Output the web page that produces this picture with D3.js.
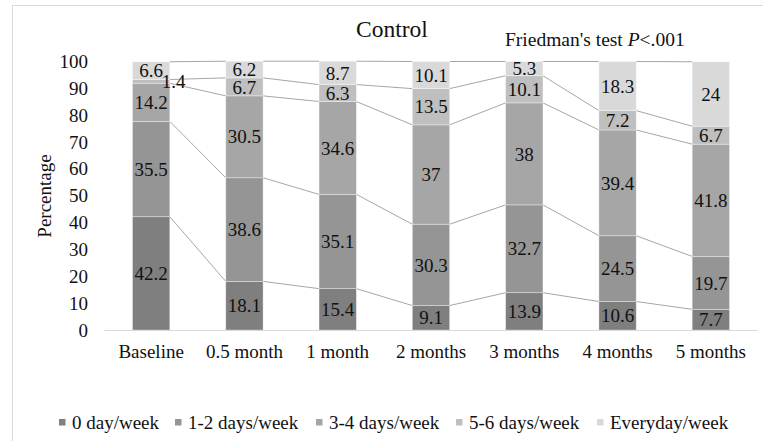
<!DOCTYPE html>
<html>
<head>
<meta charset="utf-8">
<script src="https://cdn.jsdelivr.net/npm/d3@7"></script>
<style>
  html, body { margin: 0; padding: 0; background: #fff; }
  svg text { font-family: "Liberation Serif", "Times New Roman", Times, serif !important; }
</style>
</head>
<body>
<svg id="chart" width="763" height="441"></svg>
<script>
// Visit periods and weekly-frequency categories
const periods = ["Baseline", "0.5 month", "1 month", "2 months", "3 months", "4 months", "5 months"];
const seriesNames = ["0 day/week", "1-2 days/week", "3-4 days/week", "5-6 days/week", "Everyday/week"];
const seriesColors = ["#7f7f7f", "#959595", "#a6a6a6", "#bfbfbf", "#d9d9d9"];

// Percentage of participants per category at each period
const zeroDays     = [42.2, 18.1, 15.4, 9.1, 13.9, 10.6, 7.7];
const oneTwoDays   = [35.5, 38.6, 35.1, 30.3, 32.7, 24.5, 19.7];
const threeFour    = [14.2, 30.5, 34.6, 37, 38, 39.4, 41.8];
const fiveSix      = [1.4, 6.7, 6.3, 13.5, 10.1, 7.2, 6.7];
const everyday     = [6.6, 6.2, 8.7, 10.1, 5.3, 18.3, 24];

const yTicks = [0, 10, 20, 30, 40, 50, 60, 70, 80, 90, 100];

const seriesValues = [zeroDays, oneTwoDays, threeFour, fiveSix, everyday];
const rows = periods.map((p, i) => {
  const r = { period: p };
  seriesNames.forEach((s, k) => { r[s] = seriesValues[k][i]; });
  return r;
});

const svg = d3.select("#chart");

// Outer chart frame
svg.append("rect")
  .attr("x", 12.5).attr("y", 5.5)
  .attr("width", 800).attr("height", 500)
  .attr("fill", "#fff").attr("stroke", "#d9d9d9").attr("stroke-width", 1);

const x = d3.scaleBand()
  .domain(periods)
  .range([104.5, 757.5])
  .paddingInner(0.6)
  .paddingOuter(0.3);

const y = d3.scaleLinear().domain([0, 100]).range([330, 61.5]);

const stack = d3.stack().keys(seriesNames);
const layers = stack(rows);
const color = d3.scaleOrdinal().domain(seriesNames).range(seriesColors);

// Series lines joining the tops of matching segments between neighbouring bars
const lineG = svg.append("g");
layers.forEach(layer => {
  for (let i = 0; i < layer.length - 1; i++) {
    lineG.append("line")
      .attr("x1", x(periods[i]) + x.bandwidth())
      .attr("y1", y(layer[i][1]))
      .attr("x2", x(periods[i + 1]))
      .attr("y2", y(layer[i + 1][1]))
      .attr("stroke", "#a6a6a6")
      .attr("stroke-width", 1);
  }
});

// Stacked bars
const barG = svg.append("g");
barG.selectAll("g.layer")
  .data(layers)
  .join("g")
  .attr("class", "layer")
  .attr("fill", d => color(d.key))
  .selectAll("rect")
  .data(d => d)
  .join("rect")
  .attr("x", d => x(d.data.period))
  .attr("y", d => y(d[1]))
  .attr("width", x.bandwidth())
  .attr("height", d => y(d[0]) - y(d[1]))
  .attr("stroke", "#ffffff")
  .attr("stroke-opacity", 0.45)
  .attr("stroke-width", 0.75);

// Value labels at the centre of each segment; very thin segments get the label nudged aside
const labelG = svg.append("g")
  .attr("font-size", 19)
  .attr("fill", "#111")
  .attr("text-anchor", "middle");
layers.forEach(layer => {
  layer.forEach(d => {
    const v = d.data[layer.key];
    const h = y(d[0]) - y(d[1]);
    const cx = x(d.data.period) + x.bandwidth() / 2 + (h < 8 ? x.bandwidth() * 0.6 : 0);
    labelG.append("text")
      .attr("x", cx)
      .attr("y", (y(d[0]) + y(d[1])) / 2)
      .attr("dy", "0.35em")
      .text(v);
  });
});

// X axis
const xAxis = svg.append("g")
  .attr("transform", `translate(0,${y(0) + 0.5})`)
  .call(d3.axisBottom(x).tickSize(0).tickPadding(14));
xAxis.select(".domain").attr("stroke", "#d9d9d9").attr("d", "M104.5,0H757.5");
xAxis.selectAll("text")
  .attr("font-size", 19).attr("fill", "#111");

// Y axis (labels only)
const yAxis = svg.append("g")
  .attr("transform", "translate(88,0)")
  .call(d3.axisLeft(y).tickValues(yTicks).tickSize(0).tickPadding(0));
yAxis.select(".domain").remove();
yAxis.selectAll("text")
  .attr("font-size", 19).attr("fill", "#111");

// Axis title
svg.append("text")
  .attr("transform", "translate(44,196) rotate(-90)")
  .attr("text-anchor", "middle")
  .attr("dy", "0.35em")
  .attr("font-size", 19)
  .attr("fill", "#111")
  .text("Percentage");

// Chart title and test annotation
svg.append("text")
  .attr("x", 392).attr("y", 36.5)
  .attr("text-anchor", "middle")
  .attr("font-size", 23.5)
  .attr("fill", "#111")
  .text("Control");

const note = svg.append("text")
  .attr("x", 505).attr("y", 45.5)
  .attr("font-size", 19.5)
  .attr("fill", "#111");
note.append("tspan").text("Friedman's test ");
note.append("tspan").attr("font-style", "italic").text("P");
note.append("tspan").text("<.001");

// Legend
const legendX = [59, 175, 316, 456, 597];
const legend = svg.append("g");
seriesNames.forEach((name, k) => {
  const g = legend.append("g").attr("transform", `translate(${legendX[k]},419)`);
  g.append("rect").attr("width", 6.5).attr("height", 6.5).attr("fill", seriesColors[k]);
  g.append("text")
    .attr("x", 13).attr("y", 3.5).attr("dy", "0.35em")
    .attr("font-size", 19).attr("fill", "#111")
    .text(name);
});
</script>
</body>
</html>
